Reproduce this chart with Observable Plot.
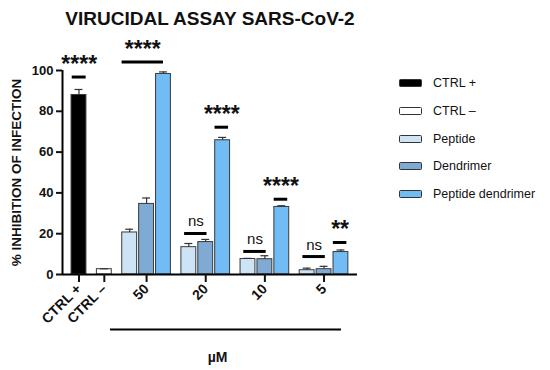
<!DOCTYPE html>
<html><head><meta charset="utf-8">
<script src="https://cdn.jsdelivr.net/npm/d3@7"></script>
<script src="https://cdn.jsdelivr.net/npm/@observablehq/plot@0.6"></script>
<style>
body{margin:0;background:#fff;font-family:"Liberation Sans",Arial,sans-serif;}
#wrap{position:relative;width:550px;height:370px;}
#wrap svg{position:absolute;left:0;top:0;}
.item{position:absolute;left:399px;height:20px;display:flex;align-items:center;font-size:12.5px;color:#111;}
.sw{width:21px;height:6px;border:1px solid #333;border-radius:1.5px;margin-right:11px;}
</style></head><body><div id="wrap"></div>
<script>
const title = "VIRUCIDAL ASSAY SARS-CoV-2";
const yLabel = "% INHIBITION OF INFECTION";
const unitLabel = "µM";
const categories = ["CTRL +", "CTRL –", "50", "20", "10", "5"];
const controls = ["CTRL +", "CTRL –"];
const controlMeans = [88.0, 2.6];
const controlSEM = [2.7, 0.2];
const concentrations = ["50", "20", "10", "5"];
const treatments = ["Peptide", "Dendrimer", "Peptide dendrimer"];
const peptideMeans = [20.6, 13.4, 7.6, 2.1];
const peptideSEM = [1.6, 1.8, 0.3, 1.0];
const dendrimerMeans = [34.6, 15.9, 7.5, 2.6];
const dendrimerSEM = [2.9, 1.3, 1.7, 1.4];
const pdMeans = [98.3, 65.8, 33.1, 11.0];
const pdSEM = [1.0, 1.4, 0.6, 1.0];
const seriesNames = ["CTRL +", "CTRL –", "Peptide", "Dendrimer", "Peptide dendrimer"];
const seriesColors = ["#000000", "#ffffff", "#cde4f7", "#7faad4", "#72bcf6"];
const yTicks = [0, 20, 40, 60, 80, 100];
const sigLabels = ["****", "****", "****", "ns", "****", "ns", "**", "ns"];
const sigGroups = ["CTRL +", "50", "20", "20", "10", "10", "5", "5"];
const sigKinds = ["single", "all", "pd", "pair", "pd", "pair", "pd", "pair"];
const sigLevels = [96.8, 104.2, 72.2, 20.1, 36.9, 11.3, 15.7, 8.8];

// layout in slot units
const catPos = {};
controls.forEach((c, i) => catPos[c] = i * 3);
concentrations.forEach((c, g) => catPos[c] = 8 + g * 7);
const rows = [];
controls.forEach((c, i) => rows.push({series: c, group: c, pos: catPos[c], value: controlMeans[i], err: controlSEM[i]}));
const tMeans = [peptideMeans, dendrimerMeans, pdMeans];
const tSEM = [peptideSEM, dendrimerSEM, pdSEM];
concentrations.forEach((c, g) => treatments.forEach((t, s) =>
  rows.push({series: t, group: c, pos: catPos[c] + (s - 1) * 2, value: tMeans[s][g], err: tSEM[s][g]})));

const sig = sigLabels.map((label, i) => {
  const p = catPos[sigGroups[i]];
  const k = sigKinds[i];
  let x1, x2;
  if (k === "single") { x1 = p - 0.8; x2 = p + 0.85; }
  else if (k === "all") { x1 = p - 2.9; x2 = p + 2; }
  else if (k === "pd") { x1 = p + 2 - 0.9; x2 = p + 2 + 0.7; }
  else { x1 = p - 2.5; x2 = p + 0.15; }
  return {label, x1, x2, xm: (x1 + x2) / 2, y: sigLevels[i], star: label !== "ns"};
});

const xDomain = [-1.95, 32.96];
const bracket = [{x1: catPos["50"] - 4.27, x2: catPos["5"] + 2.06}];
const tickLabel = new Map(categories.map(c => [catPos[c], c]));

const plot = Plot.plot({
  width: 550, height: 370,
  marginLeft: 62, marginRight: 193, marginTop: 70, marginBottom: 96,
  style: {fontFamily: "'Liberation Sans', Arial, sans-serif", color: "#111", overflow: "visible"},
  x: {domain: xDomain, axis: null},
  y: {domain: [0, 100], axis: null},
  color: {domain: seriesNames, range: seriesColors},
  marks: [
    Plot.rectY(rows, {x1: d => d.pos - 0.88, x2: d => d.pos + 0.88, y1: 0, y2: "value", fill: "series", stroke: "#3a3a3a", strokeWidth: 1}),
    Plot.ruleX(rows, {x: "pos", y1: "value", y2: d => d.value + d.err, stroke: "#333", strokeWidth: 1.2}),
    Plot.ruleY(rows, {y: d => d.value + d.err, x1: d => d.pos - 0.47, x2: d => d.pos + 0.47, stroke: "#333", strokeWidth: 1.2}),
    Plot.ruleY(sig, {y: "y", x1: "x1", x2: "x2", stroke: "#000", strokeWidth: 3}),
    Plot.text(sig.filter(d => d.star), {x: "xm", y: "y", text: "label", dy: -5, fontSize: 23, fontWeight: "bold", lineAnchor: "bottom", letterSpacing: 3}),
    Plot.text(sig.filter(d => !d.star), {x: "xm", y: "y", text: "label", dy: -7, fontSize: 15, lineAnchor: "bottom"}),
    Plot.ruleX([xDomain[0]], {y1: 0, y2: 100, stroke: "#000", strokeWidth: 2}),
    Plot.ruleY([0], {x1: xDomain[0], x2: xDomain[1], stroke: "#000", strokeWidth: 2}),
    Plot.axisY(yTicks, {tickSize: 6, tickPadding: 3, fontSize: 13, fontWeight: "bold", strokeWidth: 2, label: null}),
    Plot.axisX([...tickLabel.keys()], {tickSize: 8, tickPadding: 4, tickRotate: -45, tickFormat: d => tickLabel.get(d), fontSize: 14, fontWeight: "bold", strokeWidth: 2, label: null}),
    Plot.ruleY(bracket, {y: 0, x1: "x1", x2: "x2", dy: 55, stroke: "#000", strokeWidth: 2}),
    Plot.text([unitLabel], {x: (bracket[0].x1 + bracket[0].x2) / 2 - 1, y: 0, dy: 83, fontSize: 14, fontWeight: "bold"}),
    Plot.text([title], {frameAnchor: "top", dy: -59, fontSize: 19, fontWeight: "bold"}),
    Plot.text([yLabel], {frameAnchor: "left", dx: -46, rotate: -90, textAnchor: "middle", fontSize: 13.5, fontWeight: "bold"})
  ]
});
const wrap = document.getElementById("wrap");
wrap.appendChild(plot);
seriesNames.forEach((s, i) => {
  const it = document.createElement("div");
  it.className = "item";
  it.style.top = (73 + i * 27.8) + "px";
  const sw = document.createElement("div");
  sw.className = "sw";
  sw.style.background = seriesColors[i];
  it.appendChild(sw);
  it.appendChild(document.createTextNode(s));
  wrap.appendChild(it);
});
</script></body></html>
